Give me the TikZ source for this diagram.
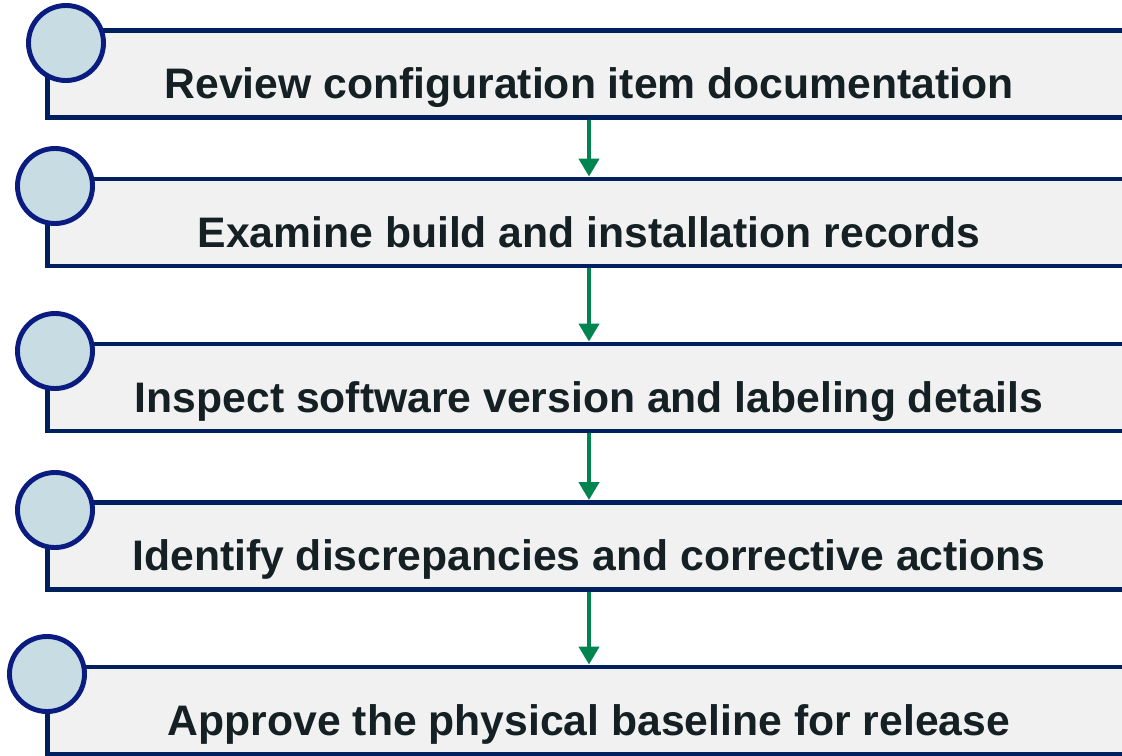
\documentclass[tikz,border=0pt]{standalone}
\usepackage{fontspec}
\setmainfont{Liberation Sans}
\usepackage{tikz}
\usetikzlibrary{arrows.meta, positioning}

\definecolor{boxline}{RGB}{0,31,95}
\definecolor{boxfill}{RGB}{241,241,241}
\definecolor{dotline}{RGB}{10,28,128}
\definecolor{dotfill}{RGB}{200,220,228}
\definecolor{steptext}{RGB}{20,32,36}
\definecolor{flowgreen}{RGB}{0,132,80}
\newcommand{\stepfont}{\fontsize{30.35}{36}\selectfont\bfseries}

\begin{document}
\begin{tikzpicture}[x=0.025cm, y=-0.025cm,
    >={Triangle[width=0.5cm, length=0.45cm]},
    stepbox/.style={draw=boxline, fill=boxfill, line width=3.5pt, inner sep=0pt,
        minimum width=27.05cm, minimum height=2.175cm,
        font=\stepfont, text=steptext, text height=1.225cm, text depth=0pt},
    dot/.style={circle, draw=dotline, fill=dotfill, line width=3.5pt,
        minimum size=1.875cm, inner sep=0pt},
    flow/.style={->, draw=flowgreen, fill=flowgreen, line width=3pt}]
    \useasboundingbox (0,0) rectangle (1122,755);
    \clip (0,0) rectangle (1122,755);
    % steps
    \node[stepbox] (review)   at (589,74)    {Review configuration item documentation};
    \node[stepbox] (examine)  at (589,222.5) {Examine build and installation records};
    \node[stepbox] (inspect)  at (589,387.5) {Inspect software version and labeling details};
    \node[stepbox] (identify) at (589,546)   {Identify discrepancies and corrective actions};
    \node[stepbox] (approve)  at (589,710.5) {Approve the physical baseline for release};
    % markers
    \node[dot] (dotreview)   at (66,43)  {};
    \node[dot] (dotexamine)  at (55,186) {};
    \node[dot] (dotinspect)  at (55,351) {};
    \node[dot] (dotidentify) at (55,510) {};
    \node[dot] (dotapprove)  at (47,674) {};
    % flow
    \draw[flow] (review.south)   -- (examine.north);
    \draw[flow] (examine.south)  -- (inspect.north);
    \draw[flow] (inspect.south)  -- (identify.north);
    \draw[flow] (identify.south) -- (approve.north);
\end{tikzpicture}
\end{document}
